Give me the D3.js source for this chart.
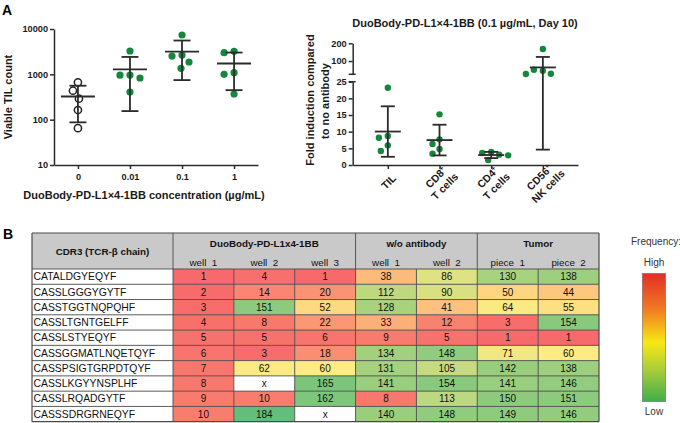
<!DOCTYPE html>
<html><head><meta charset="utf-8">
<script src="https://cdn.jsdelivr.net/npm/d3@7"></script>
<style>
body{margin:0;background:#fff}
svg{display:block}
text{font-family:"Liberation Sans",Arial,Helvetica,sans-serif}
</style>
</head><body>
<svg id="c" width="680" height="423"></svg>
<script>
// ---------- Panel A (left): viable TIL counts ----------
const concLabels = ["0", "0.01", "0.1", "1"];
const tilCounts = [
  [667, 435, 290, 163, 65],
  [3270, 966, 960, 830, 407],
  [7370, 2670, 2530, 1870, 1356],
  [3220, 3000, 1088, 1000, 368]
];
const tilTicks = [10, 100, 1000, 10000];

// ---------- Panel A (right): fold induction ----------
const cellLabels = [["TIL"], ["CD8|+", "T cells"], ["CD4|+", "T cells"], ["CD56|+", "NK cells"]];
const foldValues = [
  [23.2, 8.7, 8.2, 5.9, 4.2],
  [15.2, 7.7, 6.3, 4.8, 3.4],
  [3.9, 3.6, 3.1, 2.9, 1.5],
  [168, 45, 51, 28, 27]
];
const lowTicks = [0, 5, 10, 15, 20, 25];
const highTicks = [100, 200];

// ---------- Panel B: heatmap ----------
const cdr3 = ["CATALDGYEQYF", "CASSLGGGYGYTF", "CASSTGGTNQPQHF", "CASSLTGNTGELFF", "CASSLSTYEQYF",
  "CASSGGMATLNQETQYF", "CASSPSIGTGRPDTQYF", "CASSLKGYYNSPLHF", "CASSLRQADGYTF", "CASSSDRGRNEQYF"];
const sampleGroups = ["DuoBody-PD-L1x4-1BB", "w/o antibody", "Tumor"];
const sampleCols = ["well 1", "well 2", "well 3", "well 1", "well 2", "piece 1", "piece 2"];
const colGroup = [0, 0, 0, 1, 1, 2, 2];
const ranks = [
  [1, 4, 1, 38, 86, 130, 138],
  [2, 14, 20, 112, 90, 50, 44],
  [3, 151, 52, 128, 41, 64, 55],
  [4, 8, 22, 33, 12, 3, 154],
  [5, 5, 6, 9, 5, 1, 1],
  [6, 3, 18, 134, 148, 71, 60],
  [7, 62, 60, 131, 105, 142, 138],
  [8, null, 165, 141, 154, 141, 146],
  [9, 10, 162, 8, 113, 150, 151],
  [10, 184, null, 140, 148, 149, 146]
];
const rankDomain = [1, 60, 184];
const legendLabels = ["Frequency:", "High", "Low"];

const svg = d3.select("#c");
const INK = "#2b2b2b";
const GREEN = "#14873c";

function swarm(vals, yf, r, gap) {
  const placed = [];
  return vals.map(v => {
    const y = yf(v);
    let dx = 0;
    for (let k = 0; k < 60; k++) {
      const c = k === 0 ? 0 : (k % 2 ? -Math.ceil(k / 2) : Math.ceil(k / 2));
      if (placed.every(p => Math.hypot(p.dx - c, p.y - y) >= 2 * r + gap)) { dx = c; break; }
    }
    placed.push({dx, y});
    return {v, y, dx};
  });
}

function styleAxis(g) {
  g.selectAll("path,line").attr("stroke", INK).attr("stroke-width", 1.5);
  g.selectAll("text").attr("fill", "#1a1a1a").attr("font-weight", "bold").attr("font-size", 9.2)
   .attr("font-family", "'Liberation Sans',Arial,sans-serif");
}

function drawErrBars(g, cx, yf, vals, halfMean, halfCap) {
  const m = d3.mean(vals), sd = d3.deviation(vals);
  const yT = yf(m + sd), yB = yf(m - sd), yM = yf(m);
  const st = s => s.attr("stroke", INK).attr("stroke-width", 1.8);
  st(g.append("line").attr("x1", cx).attr("x2", cx).attr("y1", yT).attr("y2", yB));
  st(g.append("line").attr("x1", cx - halfCap).attr("x2", cx + halfCap).attr("y1", yT).attr("y2", yT));
  st(g.append("line").attr("x1", cx - halfCap).attr("x2", cx + halfCap).attr("y1", yB).attr("y2", yB));
  st(g.append("line").attr("x1", cx - halfMean).attr("x2", cx + halfMean).attr("y1", yM).attr("y2", yM));
}

// panel labels
svg.append("text").attr("x", 2).attr("y", 15).text("A")
  .attr("font-family", "'Open Sans',sans-serif").attr("font-weight", 700).attr("font-size", 14);
svg.append("text").attr("x", 3).attr("y", 239).text("B")
  .attr("font-family", "'Open Sans',sans-serif").attr("font-weight", 700).attr("font-size", 14);

// ===== left chart =====
{
  const g = svg.append("g");
  const y = d3.scaleLog().domain([10, 10000]).range([165, 29]);
  const x = d3.scalePoint().domain(concLabels).range([54, 258]).padding(0.46);
  g.append("g").attr("transform", "translate(54,0)")
    .call(d3.axisLeft(y).tickValues(tilTicks).tickFormat(d3.format("d")).tickSize(4).tickPadding(2).tickSizeOuter(0))
    .call(styleAxis);
  g.append("g").attr("transform", "translate(0,165)")
    .call(d3.axisBottom(x).tickSize(4).tickPadding(4).tickSizeOuter(0))
    .call(styleAxis);
  const r = 3.6;
  concLabels.forEach((c, i) => {
    const pts = swarm(tilCounts[i], y, r, 2.5);
    g.selectAll(null).data(pts).enter().append("circle")
      .attr("cx", d => x(c) + d.dx).attr("cy", d => d.y).attr("r", r)
      .attr("fill", i === 0 ? "#fff" : GREEN)
      .attr("stroke", i === 0 ? "#222" : "none").attr("stroke-width", 1.5);
    drawErrBars(g, x(c), y, tilCounts[i], 17, 8.5);
  });
  g.append("text").attr("transform", "translate(12,97) rotate(-90)").attr("text-anchor", "middle")
    .attr("font-weight", "bold").attr("font-size", 11).attr("fill", "#1a1a1a").text("Viable TIL count");
  g.append("text").attr("x", 144).attr("y", 199).attr("text-anchor", "middle")
    .attr("font-weight", "bold").attr("font-size", 11).attr("fill", "#1a1a1a")
    .text("DuoBody-PD-L1×4-1BB concentration (µg/mL)");
}

// ===== right chart =====
{
  const g = svg.append("g");
  const axX = 352.7;
  const yLow = d3.scaleLinear().domain([0, 25]).range([165, 81.7]);
  const yHigh = d3.scaleLinear().domain([25, 200]).range([74.3, 43.3]);
  const yf = v => v <= 25 ? yLow(v) : yHigh(v);
  const cats = cellLabels.map(d => d.join(" "));
  const x = d3.scalePoint().domain(cats).range([axX, 578]).padding(0.68);

  g.append("g").attr("transform", `translate(${axX},0)`)
    .call(d3.axisLeft(yLow).tickValues(lowTicks).tickSize(4).tickPadding(2).tickSizeOuter(0)).call(styleAxis);
  g.append("g").attr("transform", `translate(${axX},0)`)
    .call(d3.axisLeft(yHigh).tickValues(highTicks).tickSize(4).tickPadding(2).tickSizeOuter(0)).call(styleAxis);
  // break marks
  [yHigh(25), yLow(25)].forEach(yy => {
    g.append("line").attr("x1", axX - 4).attr("x2", axX + 3).attr("y1", yy).attr("y2", yy)
      .attr("stroke", INK).attr("stroke-width", 1.5);
  });
  g.append("g").attr("transform", "translate(0,165)")
    .call(d3.axisBottom(x).tickSize(4).tickSizeOuter(0).tickFormat(""))
    .call(styleAxis);

  const r = 3.2;
  cats.forEach((c, i) => {
    const pts = swarm(foldValues[i], yf, r, 2);
    g.selectAll(null).data(pts).enter().append("circle")
      .attr("cx", d => x(c) + d.dx).attr("cy", d => d.y).attr("r", r).attr("fill", GREEN);
    drawErrBars(g, x(c), yf, foldValues[i], 13, 7);
    // rotated labels
    const lines = cellLabels[i];
    const lg = g.append("g").attr("transform", `translate(${x(c) + 1},${165 + 17}) rotate(-45)`);
    lines.forEach((ln, j) => {
      const t = lg.append("text").attr("text-anchor", "middle")
        .attr("y", (j - (lines.length - 1) / 2) * 12.5 + 3.5)
        .attr("font-weight", "bold").attr("font-size", 10.5).attr("fill", "#1a1a1a");
      const parts = ln.split("|");
      t.append("tspan").text(parts[0]);
      if (parts[1]) t.append("tspan").attr("dy", -4).attr("font-size", 6.5).text(parts[1]);
    });
  });
  g.append("text").attr("x", 465).attr("y", 27).attr("text-anchor", "middle")
    .attr("font-weight", "bold").attr("font-size", 11).attr("fill", "#1a1a1a")
    .text("DuoBody-PD-L1×4-1BB (0.1 µg/mL, Day 10)");
  g.append("text").attr("transform", "translate(314,100) rotate(-90)").attr("text-anchor", "middle")
    .attr("font-weight", "bold").attr("font-size", 11).attr("fill", "#1a1a1a").text("Fold induction compared");
  g.append("text").attr("transform", "translate(329,101) rotate(-90)").attr("text-anchor", "middle")
    .attr("font-weight", "bold").attr("font-size", 11).attr("fill", "#1a1a1a").text("to no antibody");
}

// ===== heatmap =====
{
  const g = svg.append("g");
  const left = 32, firstCol = 173, right = 599, top = 233, headBot = 269, bottom = 421.7;
  const xc = d3.scaleBand().domain(d3.range(sampleCols.length)).range([firstCol, right]);
  const yr = d3.scaleBand().domain(cdr3).range([headBot, bottom]);
  const color = d3.scaleLinear().domain(rankDomain).range(["#F8696B", "#FFEB84", "#63BE7B"]);

  g.append("rect").attr("x", left).attr("y", top).attr("width", right - left).attr("height", headBot - top)
    .attr("fill", "#c9c9c9");
  cdr3.forEach((name, i) => {
    ranks[i].forEach((v, j) => {
      g.append("rect").attr("x", xc(j)).attr("y", yr(name)).attr("width", xc.bandwidth()).attr("height", yr.bandwidth())
        .attr("fill", v == null ? "#fff" : color(v));
      g.append("text").attr("x", xc(j) + xc.bandwidth() / 2).attr("y", yr(name) + yr.bandwidth() / 2 + 3.6)
        .attr("text-anchor", "middle").attr("font-size", 10).attr("fill", "#111").text(v == null ? "x" : v);
    });
    g.append("text").attr("x", left + 1.5).attr("y", yr(name) + yr.bandwidth() / 2 + 3.6)
      .attr("font-size", 10.4).attr("fill", "#111").text(name);
  });
  // grid lines
  const gl = (x1, y1, x2, y2, w) => g.append("line").attr("x1", x1).attr("y1", y1).attr("x2", x2).attr("y2", y2)
    .attr("stroke", "#4a4a4a").attr("stroke-width", w || 0.9);
  cdr3.forEach(name => gl(left, yr(name), right, yr(name)));
  gl(left, bottom, right, bottom, 1.2);
  gl(left, top, right, top, 1.2);
  gl(left, top, left, bottom, 1.2);
  gl(right, top, right, bottom, 1.2);
  gl(firstCol, top, firstCol, bottom);
  sampleCols.forEach((c, j) => {
    if (j === 0) return;
    const newGroup = colGroup[j] !== colGroup[j - 1];
    gl(xc(j), newGroup ? top : headBot, xc(j), bottom);
  });
  // header texts
  g.append("text").attr("x", (left + firstCol) / 2).attr("y", 255).attr("text-anchor", "middle")
    .attr("font-weight", "bold").attr("font-size", 9.8).attr("fill", "#111").text("CDR3 (TCR-β chain)");
  sampleGroups.forEach((grp, k) => {
    const idx = colGroup.map((d, j) => d === k ? j : -1).filter(j => j >= 0);
    const x0 = xc(idx[0]), x1 = xc(idx[idx.length - 1]) + xc.bandwidth();
    g.append("text").attr("x", (x0 + x1) / 2).attr("y", 246.5).attr("text-anchor", "middle")
      .attr("font-weight", "bold").attr("font-size", 9.8).attr("fill", "#111").text(grp);
  });
  sampleCols.forEach((c, j) => {
    g.append("text").attr("x", xc(j) + xc.bandwidth() / 2).attr("y", 265.5).attr("text-anchor", "middle")
      .attr("font-size", 9.8).attr("fill", "#111").text(c.replace(" ", "\u00a0 "));
  });

  // legend
  const defs = svg.append("defs");
  const lgd = defs.append("linearGradient").attr("id", "freq").attr("x1", 0).attr("x2", 0).attr("y1", 0).attr("y2", 1);
  [[0, "#e42d28"], [0.28, "#f17a21"], [0.54, "#f7e813"], [0.75, "#a9cd3a"], [1, "#3fae49"]].forEach(s =>
    lgd.append("stop").attr("offset", s[0]).attr("stop-color", s[1]));
  g.append("rect").attr("x", 642.3).attr("y", 273.3).attr("width", 23.4).attr("height", 128.4)
    .attr("fill", "url(#freq)").attr("stroke", "#777").attr("stroke-width", 0.6);
  const lf = "'Open Sans','Noto Sans',sans-serif";
  g.append("text").attr("x", 656).attr("y", 245).attr("text-anchor", "middle").attr("font-family", lf)
    .attr("font-size", 10).attr("fill", "#333").text(legendLabels[0]);
  g.append("text").attr("x", 654).attr("y", 265.5).attr("text-anchor", "middle").attr("font-family", lf)
    .attr("font-size", 10).attr("fill", "#333").text(legendLabels[1]);
  g.append("text").attr("x", 654).attr("y", 415).attr("text-anchor", "middle").attr("font-family", lf)
    .attr("font-size", 10).attr("fill", "#333").text(legendLabels[2]);
}
</script>
</body></html>
